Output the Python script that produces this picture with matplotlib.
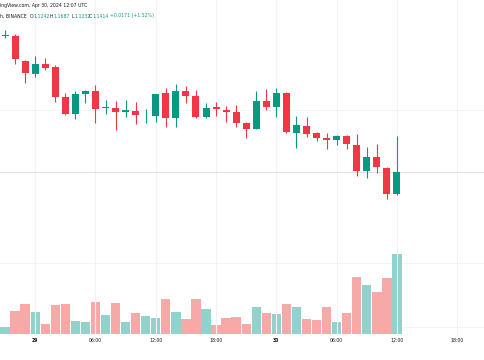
import numpy as np
import pandas as pd
import matplotlib
matplotlib.use("Agg")
import matplotlib.pyplot as plt

# hourly candles, 28 Apr 21:00 -> 30 Apr 12:00 (UTC)
opens = [1.2460, 1.2463, 1.2268, 1.2165, 1.2242, 1.2219, 1.1992, 1.1857, 1.2013, 1.2039,
         1.1909, 1.1909, 1.1871, 1.1885, 1.1850, 1.1844, 1.2019, 1.1826, 1.2036, 1.1998,
         1.1838, 1.1913, 1.1890, 1.1877, 1.1792, 1.1746, 1.1962, 1.1915, 1.2023, 1.1715,
         1.1769, 1.1710, 1.1674, 1.1661, 1.1692, 1.1620, 1.1422, 1.1525, 1.1445, 1.1242]
highs = [1.2507, 1.2474, 1.2275, 1.2306, 1.2289, 1.2237, 1.2019, 1.2039, 1.2044, 1.2080,
         1.1967, 1.1957, 1.1967, 1.1949, 1.1895, 1.2017, 1.2057, 1.2088, 1.2075, 1.2044,
         1.1942, 1.1949, 1.1923, 1.1928, 1.1797, 1.2039, 1.2050, 1.2057, 1.2029, 1.1840,
         1.1834, 1.1720, 1.1710, 1.1695, 1.1695, 1.1703, 1.1602, 1.1628, 1.1447, 1.1687]
lows = [1.2445, 1.2245, 1.2096, 1.2142, 1.2198, 1.1954, 1.1855, 1.1818, 1.1942, 1.1792,
        1.1861, 1.1736, 1.1838, 1.1782, 1.1787, 1.1800, 1.1757, 1.1757, 1.1946, 1.1826,
        1.1832, 1.1846, 1.1800, 1.1757, 1.1672, 1.1743, 1.1890, 1.1834, 1.1716, 1.1595,
        1.1684, 1.1653, 1.1587, 1.1620, 1.1587, 1.1381, 1.1363, 1.1406, 1.1201, 1.1232]
closes = [1.2465, 1.2281, 1.2173, 1.2245, 1.2216, 1.1992, 1.1859, 1.2013, 1.2039, 1.1895,
          1.1912, 1.1872, 1.1888, 1.1854, 1.1852, 1.2013, 1.1826, 1.2036, 1.1998, 1.1838,
          1.1908, 1.1895, 1.1877, 1.1792, 1.1746, 1.1962, 1.1915, 1.2019, 1.1720, 1.1774,
          1.1703, 1.1676, 1.1659, 1.1692, 1.1625, 1.1422, 1.1525, 1.1448, 1.1242, 1.1414]
volumes = [70, 230, 300, 220, 100, 290, 300, 130, 120, 320,
           190, 310, 120, 210, 180, 160, 350, 220, 150, 350,
           250, 90, 160, 170, 100, 270, 210, 200, 300, 270,
           150, 140, 270, 120, 210, 570, 490, 420, 560, 800]

times = pd.date_range("2024-04-28 21:00", periods=48, freq="h")

UP = "#089981"
DOWN = "#F23645"
UP_VOL = "#92D2CC"
DOWN_VOL = "#F7A9A7"
TEXT = "#131722"
FS = 3.3

fig = plt.figure(figsize=(4.85, 3.6), dpi=100)
ax = fig.add_axes([0, 25 / 360, 1, 335 / 360])
axv = ax.twinx()

x = np.arange(len(opens))
up = np.array(closes) >= np.array(opens)

# volume
axv.bar(x, volumes, width=0.93, color=[UP_VOL if u else DOWN_VOL for u in up], zorder=1)
axv.set_ylim(-10, 3340)
for v in (710, 70):
    axv.axhline(v, color="#F3F4F7", lw=0.7, zorder=0)

# candles
for i in x:
    c = UP if up[i] else DOWN
    ax.vlines(i, lows[i], highs[i], color=c, lw=0.8, zorder=3)
    lo, hi = sorted([opens[i], closes[i]])
    ax.bar(i, max(hi - lo, 0.00012), bottom=lo, width=0.7, color=c, zorder=4)

ax.axhline(1.1890, color="#F3F4F7", lw=0.7, zorder=0)
ax.axhline(closes[-1], color="#DDE0E6", lw=0.8, zorder=2)
ax.set_ylim(1.0155, 1.2738)
ax.set_xlim(-0.5, 47.76)

# time axis
tick_pos = [i for i, t in enumerate(times) if t.hour % 6 == 0]
tick_lab = [str(times[i].day) if times[i].hour == 0 else times[i].strftime("%H:%M") for i in tick_pos]
for p in tick_pos:
    ax.axvline(p, color="#F2F3F6", lw=0.8, zorder=0)
ax.set_xticks(tick_pos)
ax.set_xticklabels(tick_lab, fontsize=FS, color=TEXT)
for lab, p in zip(ax.get_xticklabels(), tick_pos):
    if times[p].hour == 0:
        lab.set_fontweight("bold")
ax.tick_params(axis="x", length=0, pad=2.5)
ax.set_yticks([])
axv.set_yticks([])
ax.set_zorder(axv.get_zorder() + 1)
ax.patch.set_visible(False)
for a in (ax, axv):
    for s in a.spines.values():
        s.set_visible(False)

# header
y1 = 1 - 6 / 360
y2 = 1 - 16 / 360
fig.text(0, y1, "ingView.com, Apr 30, 2024 12:07 UTC", fontsize=FS, color=TEXT, va="center")
fig.text(0, y2, "h, BINANCE", fontsize=FS, color=TEXT, va="center")
header = [("O", "1.1242", 30), ("H", "1.1687", 50), ("L", "1.1232", 71), ("C", "1.1414", 89)]
for lab, val, px in header:
    fig.text(px / 485, y2, lab, fontsize=FS, color=TEXT, va="center")
    fig.text((px + 3) / 485, y2, val, fontsize=FS, color=UP, va="center")
fig.text(110 / 485, y2, "+0.0171 (+1.52%)", fontsize=FS, color=UP, va="center")

fig.savefig("out.png", dpi=100, facecolor="white")
